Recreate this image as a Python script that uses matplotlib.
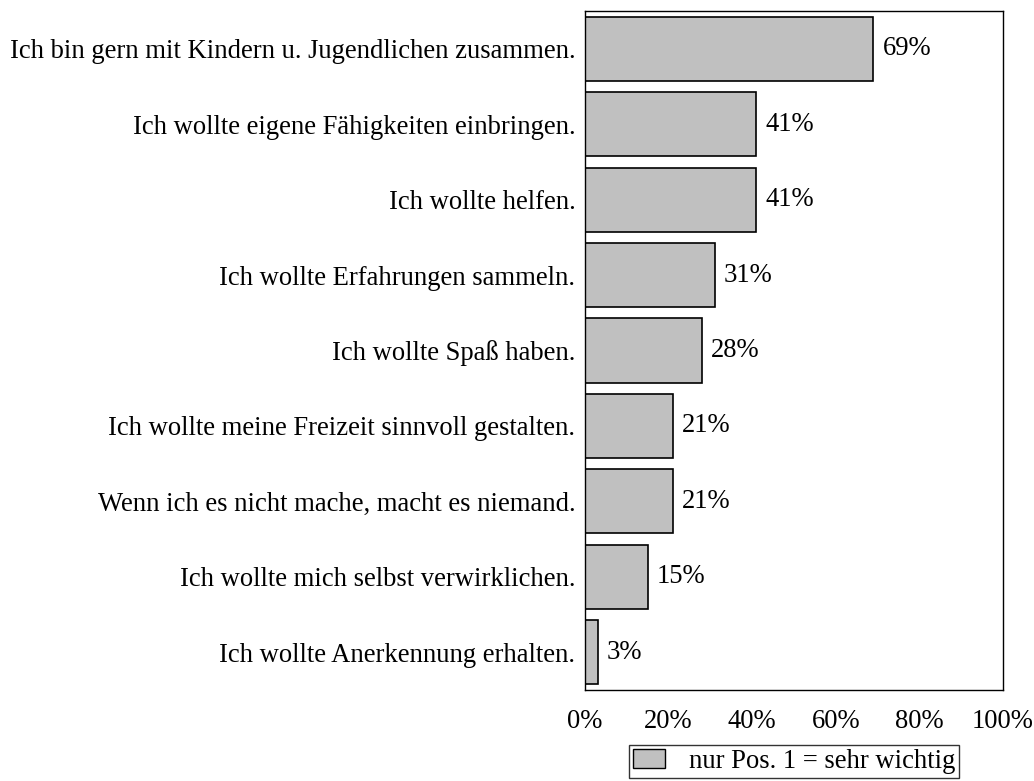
import matplotlib.pyplot as plt
from matplotlib.patches import Patch

plt.rcParams['font.family'] = ['Liberation Serif', 'DejaVu Serif']

# Data
categories = [
    'Ich bin gern mit Kindern u. Jugendlichen zusammen.',
    'Ich wollte eigene Fähigkeiten einbringen.',
    'Ich wollte helfen.',
    'Ich wollte Erfahrungen sammeln.',
    'Ich wollte Spaß haben.',
    'Ich wollte meine Freizeit sinnvoll gestalten.',
    'Wenn ich es nicht mache, macht es niemand.',
    'Ich wollte mich selbst verwirklichen.',
    'Ich wollte Anerkennung erhalten.',
]
values = [69, 41, 41, 31, 28, 21, 21, 15, 3]
xticks = [0, 20, 40, 60, 80, 100]
legend_label = 'nur Pos. 1 = sehr wichtig'
bar_color = '#c0c0c0'
fs = 19.2

fig = plt.figure(figsize=(10.34, 7.81), dpi=100)
ax = fig.add_axes([585/1034, 1 - 690/781, 418/1034, 679/781])

ypos = list(range(len(categories)))
ax.barh(ypos, values, height=0.85, color=bar_color, edgecolor='black', lw=1.2)
ax.set_ylim(len(categories) - 0.5, -0.5)
ax.set_xlim(0, 100)

for y, v in zip(ypos, values):
    ax.text(v + 2.2, y, '%d%%' % v, va='center', ha='left', fontsize=fs)

ax.set_yticks(ypos)
ax.set_yticklabels(categories, fontsize=fs)
ax.set_xticks(xticks)
ax.set_xticklabels(['%d%%' % t for t in xticks], fontsize=fs)
ax.tick_params(length=0, pad=7)
ax.tick_params(axis='x', pad=14)
for s in ax.spines.values():
    s.set_linewidth(1.0)

leg = fig.legend(handles=[Patch(facecolor=bar_color, edgecolor='black', lw=1.0)],
                 labels=[legend_label], loc='upper center',
                 bbox_to_anchor=(794/1034, 1 - 745/781), borderaxespad=0,
                 fontsize=fs, frameon=True, fancybox=False, edgecolor='black',
                 borderpad=0.15, handlelength=1.2, handleheight=0.7,
                 handletextpad=0.9)
leg.get_frame().set_linewidth(1.0)

fig.savefig('out.png', dpi=100)
